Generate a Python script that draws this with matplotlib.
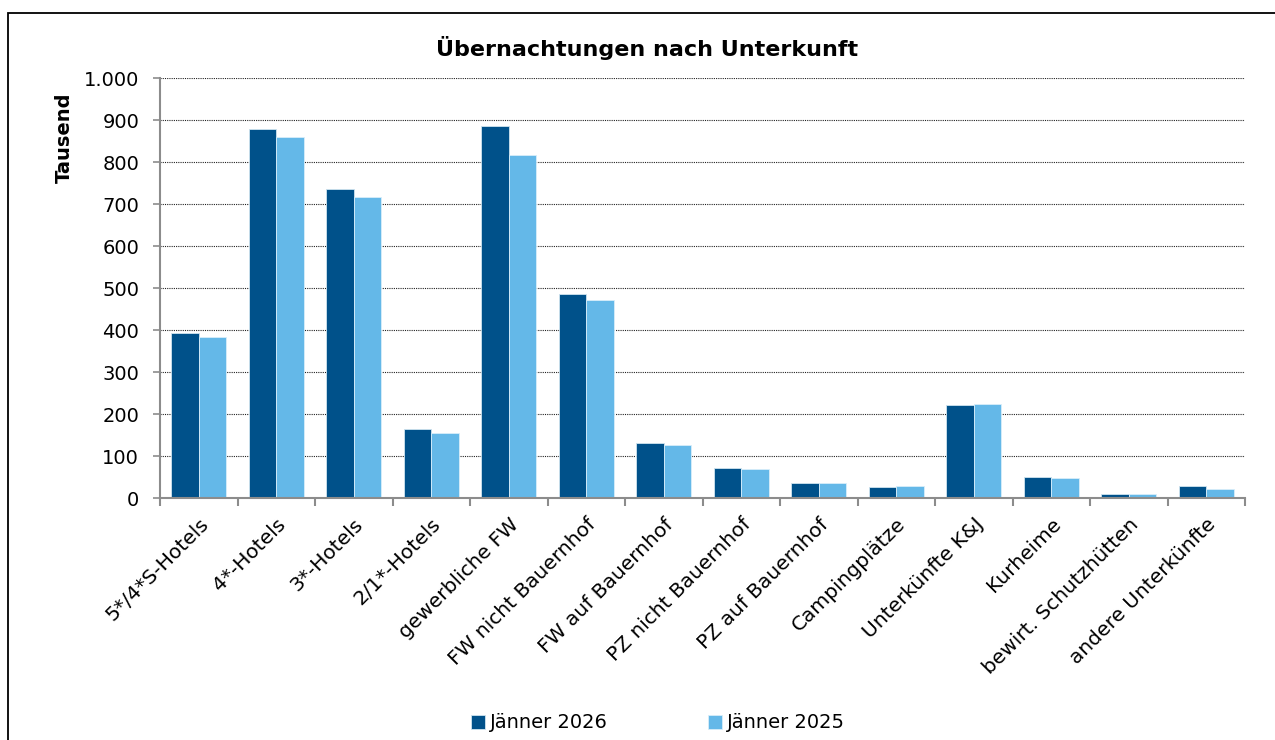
import matplotlib
matplotlib.use("Agg")
import matplotlib.pyplot as plt
import numpy as np
from matplotlib.patches import Rectangle
from matplotlib.ticker import FuncFormatter, MultipleLocator

categories = ["5*/4*S-Hotels", "4*-Hotels", "3*-Hotels", "2/1*-Hotels", "gewerbliche FW",
              "FW nicht Bauernhof", "FW auf Bauernhof", "PZ nicht Bauernhof", "PZ auf Bauernhof",
              "Campingplätze", "Unterkünfte K&J", "Kurheime", "bewirt. Schutzhütten", "andere Unterkünfte"]
jan_2026 = [393, 879, 735, 164, 886, 485, 130, 71, 36, 26, 221, 49, 10, 29]
jan_2025 = [383, 860, 716, 155, 816, 471, 126, 70, 36, 28, 225, 47, 10, 21]
series_labels = ["Jänner 2026", "Jänner 2025"]
title = "Übernachtungen nach Unterkunft"
ylabel = "Tausend"

dark = "#00518A"
light = "#64B8E8"

plt.rcParams['font.family'] = ['DejaVu Sans']
fig = plt.figure(figsize=(12.75, 7.4), dpi=100)
W, H = 1275, 740
ax = fig.add_axes([160 / W, 1 - 498 / H, (1245 - 160) / W, (498 - 78) / H])

x = np.arange(len(categories))
bw = 0.355
ax.bar(x - bw / 2, jan_2026, bw, color=dark, edgecolor="#d0e4f0", linewidth=0.6, label=series_labels[0], zorder=3)
ax.bar(x + bw / 2, jan_2025, bw, color=light, edgecolor="#d8eefa", linewidth=0.6, label=series_labels[1], zorder=3)

ax.set_xlim(-0.5, len(categories) - 0.5)
ax.set_ylim(0, 1000)
ax.yaxis.set_major_locator(MultipleLocator(100))
ax.yaxis.set_major_formatter(FuncFormatter(lambda v, p: f"{int(v):,}".replace(",", ".")))
ax.grid(axis="y", color="#222222", linestyle=(0, (1.0, 1.0)), linewidth=0.8, zorder=1)

for s in ["top", "right"]:
    ax.spines[s].set_visible(False)
for s in ["left", "bottom"]:
    ax.spines[s].set_color("#8c8c8c")
    ax.spines[s].set_linewidth(1.5)
    ax.spines[s].set_zorder(4)

ax.set_xticks(np.arange(len(categories) + 1) - 0.5)
ax.set_xticklabels([])
ax.set_xticks(x, minor=True)
ax.set_xticklabels(categories, minor=True, rotation=45, ha="right", rotation_mode="anchor", fontsize=14.5)
ax.tick_params(axis="x", which="minor", length=0, pad=12)
ax.tick_params(axis="x", which="major", length=6, width=1.5, color="#8c8c8c", direction="out")
ax.tick_params(axis="y", length=5, width=1.2, color="#8c8c8c", labelsize=14, pad=10)

ax.set_ylabel(ylabel, fontsize=14, fontweight="bold")
ax.yaxis.set_label_coords(-86 / (1245 - 160), 1 - (138 - 78) / 420)

fig.text(647 / W, 1 - 48 / H, title, ha="center", va="center", fontsize=16, fontweight="bold")

leg = fig.legend(loc="center", bbox_to_anchor=(658 / W, 1 - 723 / H), ncol=2, frameon=False,
                 fontsize=14, handlelength=0.7, handleheight=0.7, handletextpad=0.25, columnspacing=5.2)

fig.patches.append(Rectangle((8 / W, -0.05), 1.1, 1 - 13 / H + 0.05, transform=fig.transFigure,
                             fill=False, edgecolor="black", linewidth=1.3))

fig.savefig("out.png", dpi=100)
